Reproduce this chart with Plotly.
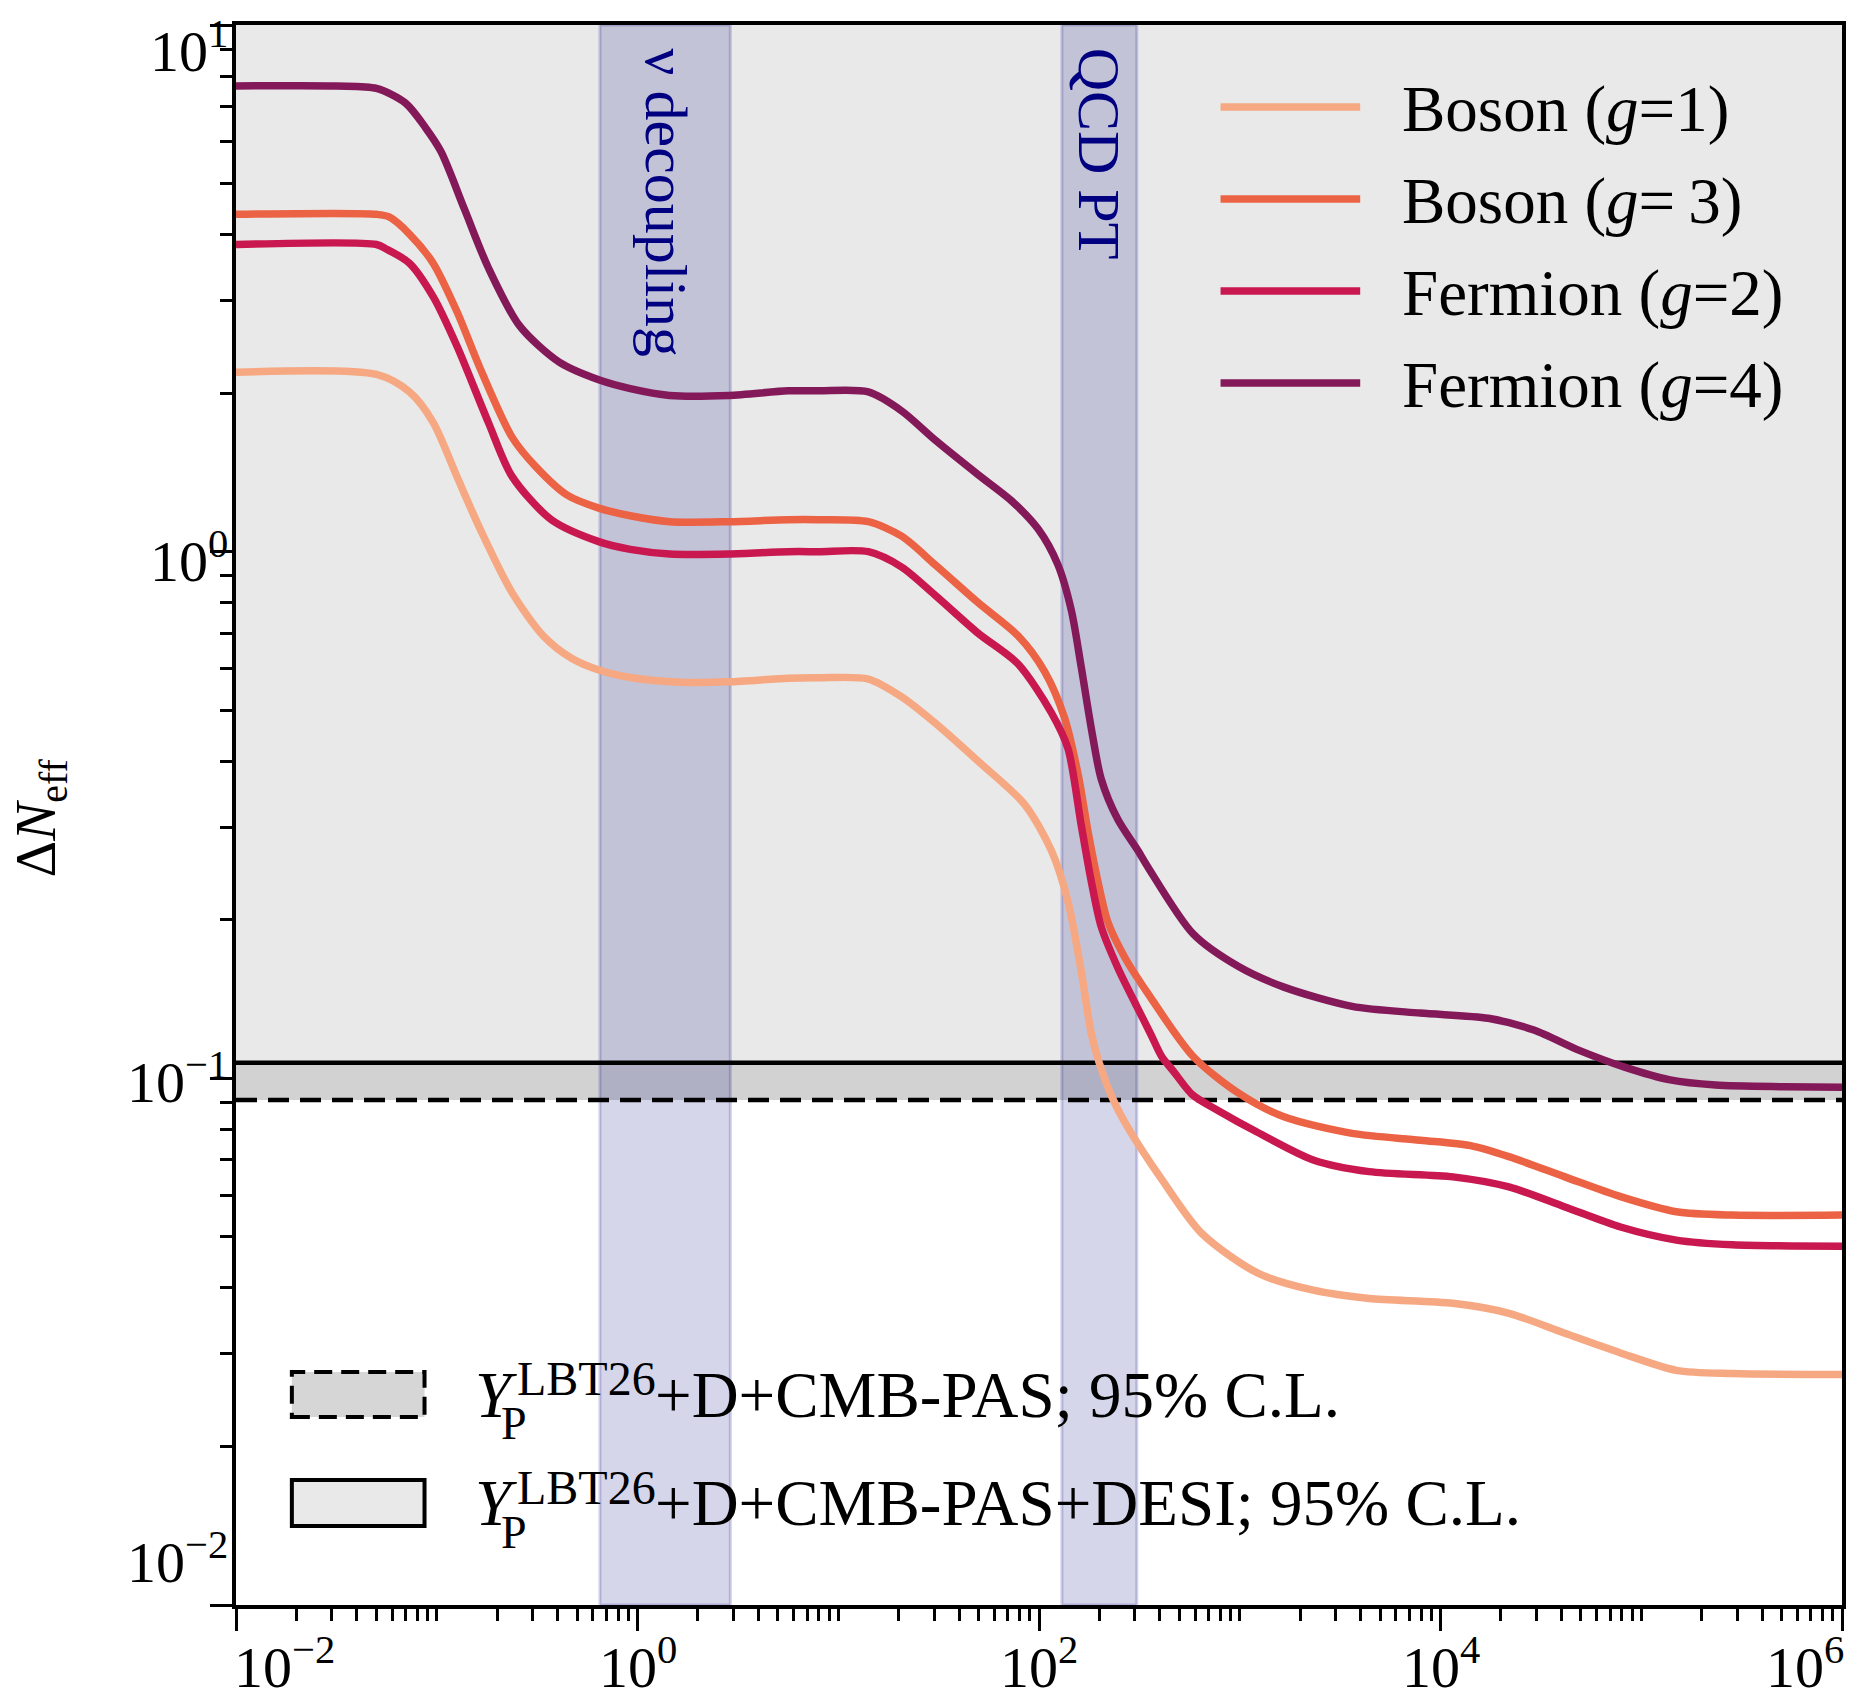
import math
import plotly.graph_objects as go

# ---------------- data ----------------
# x positions are given as log10(x); values are Delta N_eff
boson1_logx = [-2.0, -1.3, -1.136, -1.018, -0.9, -0.782, -0.625, -0.468, -0.331, -0.193, -0.036, 0.219,
               0.455, 0.75, 0.902, 1.15, 1.316, 1.482, 1.697, 1.929, 2.061, 2.144, 2.21, 2.26, 2.30, 2.37,
               2.44, 2.615, 2.81, 3.088, 3.366, 3.645, 4.062, 4.341, 4.62, 4.897, 5.175, 5.454, 6.0]
boson1_dN = [2.19, 2.17, 2.01, 1.76, 1.39, 1.10, 0.836, 0.691, 0.628, 0.596, 0.577, 0.565,
             0.566, 0.575, 0.576, 0.573, 0.53, 0.473, 0.40, 0.331, 0.271, 0.217, 0.16, 0.122, 0.107, 0.091,
             0.081, 0.064, 0.0508, 0.0427, 0.0396, 0.0382, 0.0374, 0.0358, 0.0328, 0.0301, 0.0279, 0.0275, 0.0274]

boson3_logx = [-2.0, -1.3, -1.237, -1.136, -1.018, -0.9, -0.782, -0.625, -0.507, -0.35, -0.193, -0.036,
               0.16, 0.455, 0.75, 0.902, 1.15, 1.316, 1.482, 1.697, 1.896, 2.028, 2.127, 2.194, 2.243,
               2.293, 2.343, 2.426, 2.542, 2.768, 2.994, 3.22, 3.56, 3.899, 4.15, 4.341, 4.62, 4.897,
               5.175, 5.454, 6.0]
boson3_dN = [4.37, 4.37, 4.32, 4.01, 3.53, 2.86, 2.22, 1.65, 1.45, 1.28, 1.21, 1.17,
             1.14, 1.14, 1.15, 1.15, 1.14, 1.07, 0.945, 0.80, 0.692, 0.592, 0.484, 0.379, 0.296,
             0.237, 0.198, 0.17, 0.145, 0.110, 0.0937, 0.0845, 0.0786, 0.0763, 0.0745, 0.071, 0.065, 0.0596,
             0.0558, 0.055, 0.055]

fermion2_logx = [-2.0, -1.3, -1.254, -1.136, -1.018, -0.9, -0.743, -0.625, -0.429, -0.193, -0.036, 0.16,
                 0.455, 0.75, 0.902, 1.15, 1.316, 1.482, 1.697, 1.896, 2.061, 2.144, 2.21, 2.26, 2.31,
                 2.393, 2.487, 2.558, 2.611, 2.671, 2.765, 2.889, 3.088, 3.366, 3.645, 4.062, 4.341, 4.62,
                 4.897, 5.175, 5.454, 6.0]
fermion2_dN = [3.83, 3.83, 3.76, 3.53, 3.05, 2.46, 1.76, 1.39, 1.15, 1.045, 1.01, 0.99,
               0.99, 1.0, 1.0, 1.0, 0.935, 0.827, 0.70, 0.612, 0.495, 0.423, 0.303, 0.237, 0.194,
               0.162, 0.137, 0.121, 0.110, 0.103, 0.093, 0.087, 0.079, 0.070, 0.0665, 0.065, 0.0622, 0.057,
               0.0522, 0.0493, 0.0483, 0.048]

fermion4_logx = [-2.0, -1.5, -1.3, -1.156, -1.057, -0.979, -0.861, -0.743, -0.586, -0.39, -0.193, -0.036,
                 0.16, 0.455, 0.75, 0.902, 1.15, 1.316, 1.482, 1.697, 1.862, 1.995, 2.094, 2.161, 2.21,
                 2.26, 2.31, 2.393, 2.492, 2.542, 2.768, 2.994, 3.22, 3.56, 3.899, 4.238, 4.465, 4.691,
                 4.917, 5.144, 5.37, 5.71, 6.0]
fermion4_dN = [7.66, 7.66, 7.58, 7.11, 6.39, 5.75, 4.46, 3.46, 2.68, 2.29, 2.12, 2.04,
               1.98, 1.98, 2.02, 2.02, 2.01, 1.85, 1.63, 1.40, 1.25, 1.105, 0.945, 0.774, 0.605,
               0.463, 0.37, 0.31, 0.271, 0.252, 0.188, 0.163, 0.149, 0.137, 0.133, 0.130, 0.1235, 0.113,
               0.105, 0.0993, 0.0971, 0.0964, 0.0962]

series_names = ["Boson (<i>g</i>=1)", "Boson (<i>g</i>=\u20093)", "Fermion (<i>g</i>=2)", "Fermion (<i>g</i>=4)"]
series_colors = ["#F6A882", "#EC6244", "#C9174F", "#84195A"]
series_logx = [boson1_logx, boson3_logx, fermion2_logx, fermion4_logx]
series_dN = [boson1_dN, boson3_dN, fermion2_dN, fermion4_dN]

# constraints (95% C.L. upper bounds on Delta N_eff)
cl_pas = 0.091        # Y_P + D + CMB-PAS (dashed)
cl_pas_desi = 0.107   # Y_P + D + CMB-PAS + DESI (solid)
y_top = 10.0

# shaded epochs
nu_band = [0.65, 2.9]
qcd_band = [130.0, 307.0]
band_labels = ["\u03bd decoupling", "QCD PT"]

x_major = [1e-2, 1e0, 1e2, 1e4, 1e6]
x_major_text = ["10<sup>\u22122</sup>", "10<sup>0</sup>", "10<sup>2</sup>", "10<sup>4</sup>", "10<sup>6</sup>"]
y_major = [1e-2, 1e-1, 1e0, 1e1]
y_major_text = ["10<sup>\u22122</sup>", "10<sup>\u22121</sup>", "10<sup>0</sup>", "10<sup>1</sup>"]

# ---------------- figure ----------------
W, H = 1858, 1700
L, R, T, B = 236, 12, 25, 95
PW, PH = W - L - R, H - T - B
SERIF = "Liberation Serif, Times New Roman, serif"


def px_x(px):
    return (px - L) / PW


def px_y(py):
    return (H - B - py) / PH


fig = go.Figure()
for name, col, lx, dn in zip(series_names, series_colors, series_logx, series_dN):
    fig.add_trace(go.Scatter(x=[10 ** v for v in lx], y=dn, mode="lines", name=name,
                             line=dict(color=col, width=7.5, shape="spline", smoothing=0.8),
                             showlegend=False, hoverinfo="skip"))

shapes = []
# excluded regions (shape coordinates on log axes are data values)
shapes.append(dict(type="rect", xref="paper", x0=0, x1=1, yref="y", y0=cl_pas, y1=y_top,
                   fillcolor="#d2d2d2", line=dict(width=0), layer="below"))
shapes.append(dict(type="rect", xref="paper", x0=0, x1=1, yref="y", y0=cl_pas_desi, y1=y_top,
                   fillcolor="#e9e9e9", line=dict(width=0), layer="below"))
# epoch bands
for b in (nu_band, qcd_band):
    shapes.append(dict(type="rect", xref="x", x0=b[0], x1=b[1], yref="paper", y0=0, y1=1,
                       fillcolor="rgba(0,0,128,0.16)", line=dict(color="rgba(0,0,128,0.18)", width=3),
                       layer="below"))
# constraint lines
shapes.append(dict(type="line", xref="paper", x0=0, x1=1, yref="y", y0=cl_pas, y1=cl_pas,
                   line=dict(color="black", width=4.5, dash="21px,11px"), layer="below"))
shapes.append(dict(type="line", xref="paper", x0=0, x1=1, yref="y", y0=cl_pas_desi, y1=cl_pas_desi,
                   line=dict(color="black", width=4.5), layer="below"))

annotations = []
# legend (upper right)
leg_y = [107, 199, 291, 383]
for name, col, yy in zip(series_names, series_colors, leg_y):
    shapes.append(dict(type="line", xref="paper", yref="paper", x0=px_x(1223), x1=px_x(1363),
                       y0=px_y(yy), y1=px_y(yy), line=dict(color=col, width=7.5)))
    annotations.append(dict(xref="paper", yref="paper", x=px_x(1403), y=px_y(yy + 2), text=name,
                            showarrow=False, xanchor="left", yanchor="middle",
                            font=dict(family=SERIF, size=65, color="black")))

# legend (lower left) for constraints
patch_rows = [(1372, 1417, "dash", "#d6d6d6", "+D+CMB-PAS; 95% C.L."),
              (1480, 1526, "solid", "#e9e9e9", "+D+CMB-PAS+DESI; 95% C.L.")]
for (y0, y1, dash, fill, txt) in patch_rows:
    shapes.append(dict(type="rect", xref="paper", yref="paper", x0=px_x(292), x1=px_x(425),
                       y0=px_y(y1), y1=px_y(y0), fillcolor=fill,
                       line=dict(color="black", width=4, dash="18px,9px" if dash == "dash" else "solid")))
    yc = (y0 + y1) / 2
    annotations.append(dict(xref="paper", yref="paper", x=px_x(474), y=px_y(yc), text="<i>Y</i>",
                            showarrow=False, xanchor="left", yanchor="middle",
                            font=dict(family=SERIF, size=65, color="black")))
    annotations.append(dict(xref="paper", yref="paper", x=px_x(500), y=px_y(yc + 29), text="P",
                            showarrow=False, xanchor="left", yanchor="middle",
                            font=dict(family=SERIF, size=46, color="black")))
    annotations.append(dict(xref="paper", yref="paper", x=px_x(516), y=px_y(yc - 16), text="LBT26",
                            showarrow=False, xanchor="left", yanchor="middle",
                            font=dict(family=SERIF, size=48, color="black")))
    annotations.append(dict(xref="paper", yref="paper", x=px_x(654), y=px_y(yc), text=txt,
                            showarrow=False, xanchor="left", yanchor="middle",
                            font=dict(family=SERIF, size=65, color="black")))

# epoch labels (annotation positions on log axes are log10 values)
for b, lab in zip((nu_band, qcd_band), band_labels):
    annotations.append(dict(xref="x", yref="paper", x=(math.log10(b[0]) + math.log10(b[1])) / 2,
                            y=px_y(46), text=lab, textangle=90, showarrow=False,
                            xanchor="center", yanchor="top",
                            font=dict(family=SERIF, size=60, color="#000080")))

# tick labels
x_anchor = ["left", "center", "center", "center", "right"]
for v, t, xa in zip(x_major, x_major_text, x_anchor):
    annotations.append(dict(xref="x", yref="paper", x=math.log10(v), y=0, yshift=-20, text=t,
                            showarrow=False, xanchor=xa, yanchor="top",
                            xshift=-4 if xa == "left" else (4 if xa == "right" else 0),
                            font=dict(family=SERIF, size=58, color="black")))
y_anchor = ["bottom", "middle", "middle", "top"]
y_shift = [8, 0, -6, 16]
for v, t, ya, ys in zip(y_major, y_major_text, y_anchor, y_shift):
    annotations.append(dict(xref="paper", yref="y", x=0, xshift=-6, y=math.log10(v), yshift=ys, text=t,
                            showarrow=False, xanchor="right", yanchor=ya,
                            font=dict(family=SERIF, size=58, color="black")))

# y-axis title
annotations.append(dict(xref="paper", yref="paper", x=px_x(40), y=px_y(818),
                        text="\u0394<i>N</i><sub>eff</sub>", textangle=-90, showarrow=False,
                        xanchor="center", yanchor="middle",
                        font=dict(family=SERIF, size=57, color="black")))

x_minor = [m * 10 ** k for k in range(-2, 6) for m in range(1, 10) if not (m == 1 and k % 2 == 0)]
y_minor = [m * 10 ** k for k in range(-2, 1) for m in range(2, 10)]

fig.update_layout(
    width=W, height=H,
    margin=dict(l=L, r=R, t=T, b=B, pad=0),
    paper_bgcolor="white", plot_bgcolor="white",
    showlegend=False,
    shapes=shapes, annotations=annotations,
    xaxis=dict(type="log", range=[-2, 6], tickmode="array", tickvals=x_major, showticklabels=False,
               ticks="outside", ticklen=22, tickwidth=3, tickcolor="black",
               showline=True, linewidth=4, linecolor="black", mirror=True,
               showgrid=False, zeroline=False,
               minor=dict(tickmode="array", tickvals=x_minor, ticks="outside", ticklen=12, tickwidth=2.5,
                          tickcolor="black", showgrid=False)),
    yaxis=dict(type="log", range=[-2, 1], tickmode="array", tickvals=y_major, showticklabels=False,
               ticks="outside", ticklen=22, tickwidth=3, tickcolor="black",
               showline=True, linewidth=4, linecolor="black", mirror=True,
               showgrid=False, zeroline=False,
               minor=dict(tickmode="array", tickvals=y_minor, ticks="outside", ticklen=12, tickwidth=2.5,
                          tickcolor="black", showgrid=False)),
)

fig.write_html("out.html", config={"displayModeBar": False},
               post_script="document.body.style.margin='0';document.body.style.overflow='hidden';")
